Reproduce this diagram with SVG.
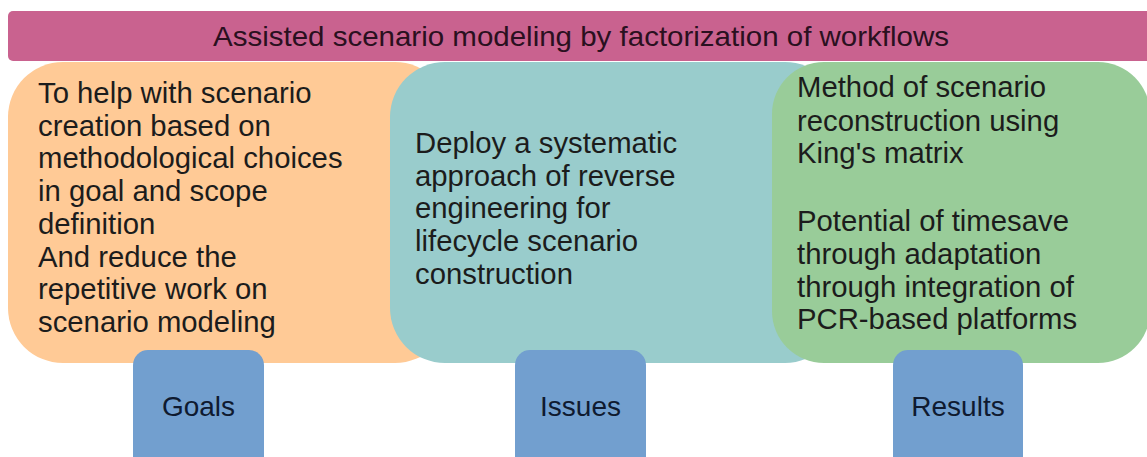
<svg xmlns="http://www.w3.org/2000/svg" width="1147" height="457" viewBox="0 0 1147 457">
<style>
.body{font-family:"Liberation Sans",Arial,sans-serif;font-size:29.3px;fill:#1c1c1c}
.lbl{font-family:"Liberation Sans",Arial,sans-serif;font-size:28px;fill:#0f1a30;text-anchor:middle}
.title{font-family:"Liberation Sans",Arial,sans-serif;font-size:28.5px;fill:#2a1020;text-anchor:middle}
.blue{fill:#729fcf}
</style>
<rect width="1147" height="457" fill="#ffffff"/>
<g id="title">
<rect x="8" y="11" width="1150" height="50" rx="5" fill="#c9628f"/>
<text class="title" x="581" y="46" textLength="736" lengthAdjust="spacingAndGlyphs">Assisted scenario modeling by factorization of workflows</text>
</g>
<g id="goals-panel">
<rect x="8" y="62" width="442" height="301" rx="55" fill="#ffca96"/>
<text class="body" x="38"><tspan x="38" y="103">To help with scenario</tspan><tspan x="38" y="135.7">creation based on</tspan><tspan x="38" y="168.4">methodological choices</tspan><tspan x="38" y="201">in goal and scope</tspan><tspan x="38" y="233.8">definition</tspan><tspan x="38" y="266.5">And reduce the</tspan><tspan x="38" y="299">repetitive work on</tspan><tspan x="38" y="332">scenario modeling</tspan></text>
</g>
<g id="issues-panel">
<rect x="390" y="62" width="450" height="301" rx="55" fill="#99cccc"/>
<text class="body"><tspan x="415" y="153">Deploy a systematic</tspan><tspan x="415" y="185.7">approach of reverse</tspan><tspan x="415" y="218.4">engineering for</tspan><tspan x="415" y="251">lifecycle scenario</tspan><tspan x="415" y="283.8">construction</tspan></text>
</g>
<g id="results-panel">
<rect x="772" y="62" width="378" height="301" rx="52" fill="#99cc99"/>
<text class="body"><tspan x="797" y="97">Method of scenario</tspan><tspan x="797" y="130.5">reconstruction using</tspan><tspan x="797" y="163">King's matrix</tspan><tspan x="797" y="231">Potential of timesave</tspan><tspan x="797" y="264">through adaptation</tspan><tspan x="797" y="297">through integration of</tspan><tspan x="797" y="329">PCR-based platforms</tspan></text>
</g>
<g id="goals">
<rect class="blue" x="133" y="350" width="131" height="130" rx="15"/>
<text class="lbl" x="198.5" y="416">Goals</text>
</g>
<g id="issues">
<rect class="blue" x="515" y="350" width="131" height="130" rx="15"/>
<text class="lbl" x="580.5" y="416">Issues</text>
</g>
<g id="results">
<rect class="blue" x="893" y="350" width="130" height="130" rx="15"/>
<text class="lbl" x="958" y="416">Results</text>
</g>
<g id="connectors"></g>
</svg>
